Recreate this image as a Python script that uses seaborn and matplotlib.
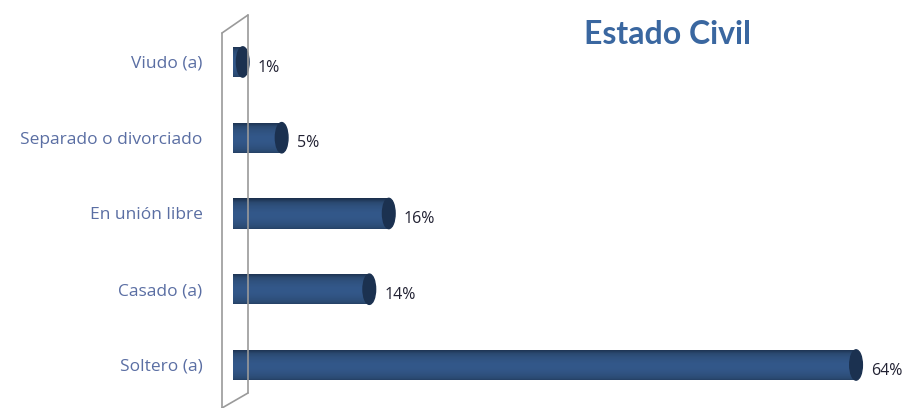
import numpy as np
import pandas as pd
import seaborn as sns
import matplotlib.pyplot as plt
from matplotlib.patches import Ellipse
from matplotlib.lines import Line2D

categories = ['Viudo (a)', 'Separado o divorciado', 'En unión libre', 'Casado (a)', 'Soltero (a)']
percent = [1, 5, 16, 14, 64]
labels = ['1%', '5%', '16%', '14%', '64%']

BAR = '#2b4a72'
CAP = '#1b3150'

sns.set_theme(style='white')
plt.rcParams['font.family'] = ['Lato', 'DejaVu Sans']

df = pd.DataFrame({'estado': categories, 'pct': percent})

fig = plt.figure(figsize=(9.04, 4.08), dpi=100)
ax = fig.add_axes([233 / 904, 0, (895 - 233) / 904, 1])

sns.barplot(data=df, y='estado', x='pct', order=categories, color=BAR,
            saturation=1, width=0.4, linewidth=0, ax=ax)

ax.set_xlim(0, 68)
ax.set_ylim(4.568, -0.818)

# cylinder look: vertical shading and a darker end cap
grad = np.sin(np.linspace(0.15, np.pi - 0.4, 40)).reshape(-1, 1)
cmap = sns.blend_palette(['#14243c', BAR, '#33588a'], as_cmap=True)
for p in ax.patches[:len(percent)]:
    x0, y0, w, h = p.get_x(), p.get_y(), p.get_width(), p.get_height()
    im = ax.imshow(grad, cmap=cmap, vmin=0, vmax=1, aspect='auto',
                   extent=(x0, x0 + w, y0 + h, y0), zorder=p.get_zorder() + 0.1,
                   interpolation='bilinear')
    im.set_clip_path(p)
    ax.add_patch(Ellipse((x0 + w, y0 + h / 2), 1.3, h, color=CAP, zorder=p.get_zorder() + 0.3))

texts = ax.bar_label(ax.containers[0], labels=labels, padding=11, fontsize=11.5,
                     color='#222233', family=['Open Sans', 'DejaVu Sans'])
for t in texts:
    dx, dy = t.xyann
    t.xyann = (dx, dy - 4)

ax.set_xlabel('')
ax.set_ylabel('')
ax.set_xticks([])
ax.tick_params(axis='y', length=0, pad=22, labelsize=12.5, labelcolor='#5a6ea3')
for lab in ax.get_yticklabels():
    lab.set_family(['Open Sans', 'DejaVu Sans'])
sns.despine(ax=ax, left=True, bottom=True)
ax.set_facecolor('none')

# back wall of the 3D chart
wall = dict(color='#9a9a9a', lw=1.2, transform=None)
H = 408
for xs, ys in [([222, 222], [33, 410]), ([248, 248], [15, 393]),
               ([222, 248], [33, 15]), ([222, 248], [408, 393])]:
    fig.add_artist(Line2D(xs, [H - y for y in ys], **wall))

fig.text(668 / 904, 1 - 35 / 408, 'Estado Civil', ha='center', va='center',
         fontsize=23, fontweight='bold', color='#3a67a0')

fig.savefig('out.png', dpi=100)
